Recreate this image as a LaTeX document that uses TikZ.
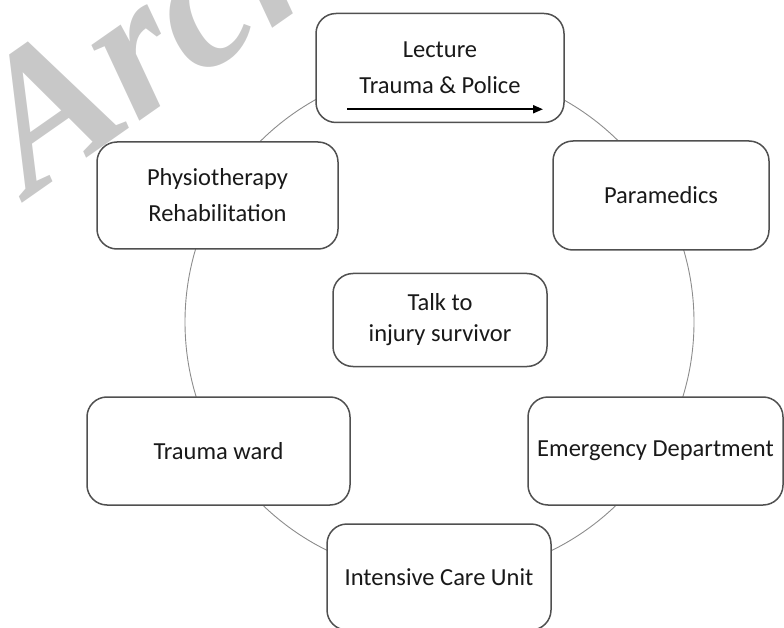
\documentclass[tikz,border=0pt]{standalone}
\usepackage{fontspec}
\setmainfont{Carlito}
\newfontfamily\markfont{Liberation Serif}
\usepackage{tikz}
\usetikzlibrary{arrows.meta,calc}
\definecolor{boxline}{RGB}{80,80,80}
\definecolor{ringline}{RGB}{140,140,140}
\definecolor{ink}{RGB}{25,25,25}
\definecolor{mark}{RGB}{200,200,200}

\begin{document}
\begin{tikzpicture}[x=1pt,y=-1pt,
    stage/.style={draw=boxline,line width=1.5pt,fill=white,rounded corners=20pt,
      inner sep=0pt,align=center,text=ink,font=\fontsize{24.5}{36}\selectfont},
    ring/.style={draw=ringline,line width=0.9pt}]
        \useasboundingbox (0,0) rectangle (784,628);
        \clip (0,0) rectangle (784,628);
        % watermark
        \node[text=mark,anchor=base west,rotate=35,inner sep=0pt,
          font=\markfont\bfseries\itshape\fontsize{195}{195}\selectfont] (wmark) at (30,198) {Archive of SID};
        % ring behind the stages
        \coordinate (hub) at (439.5,322);
        \draw[ring] (hub) circle[radius=254.5];
        % stages
        \node[stage,minimum width=248,minimum height=109] (lecture) at (440,68) {Lecture\\Trauma \& Police};
        \node[stage,minimum width=216,minimum height=109] (paramedics) at (661,195.5) {Paramedics};
        \node[stage,minimum width=255,minimum height=108] (emergency) at (655.5,451) {Emergency Department};
        \node[stage,minimum width=224,minimum height=106] (icu) at (439,577) {Intensive Care Unit};
        \node[stage,minimum width=263,minimum height=108] (trauma) at (218.5,451) {Trauma ward};
        \node[stage,minimum width=241,minimum height=107] (physio) at (217.5,195.5) {Physiotherapy\\Rehabilitation};
        \node[stage,minimum width=214,minimum height=93,font=\fontsize{24.5}{31}\selectfont] (talk) at (440,320) {Talk to\\injury survivor};
        % arrow under the lecture title
        \coordinate (arrtail) at ($(lecture.south)+(-93,-14)$);
        \coordinate (arrhead) at ($(lecture.south)+(103,-14)$);
        \draw[-{Triangle[length=10pt,width=8pt]},line width=2pt,black] (arrtail) -- (arrhead);
      \end{tikzpicture}
\end{document}
